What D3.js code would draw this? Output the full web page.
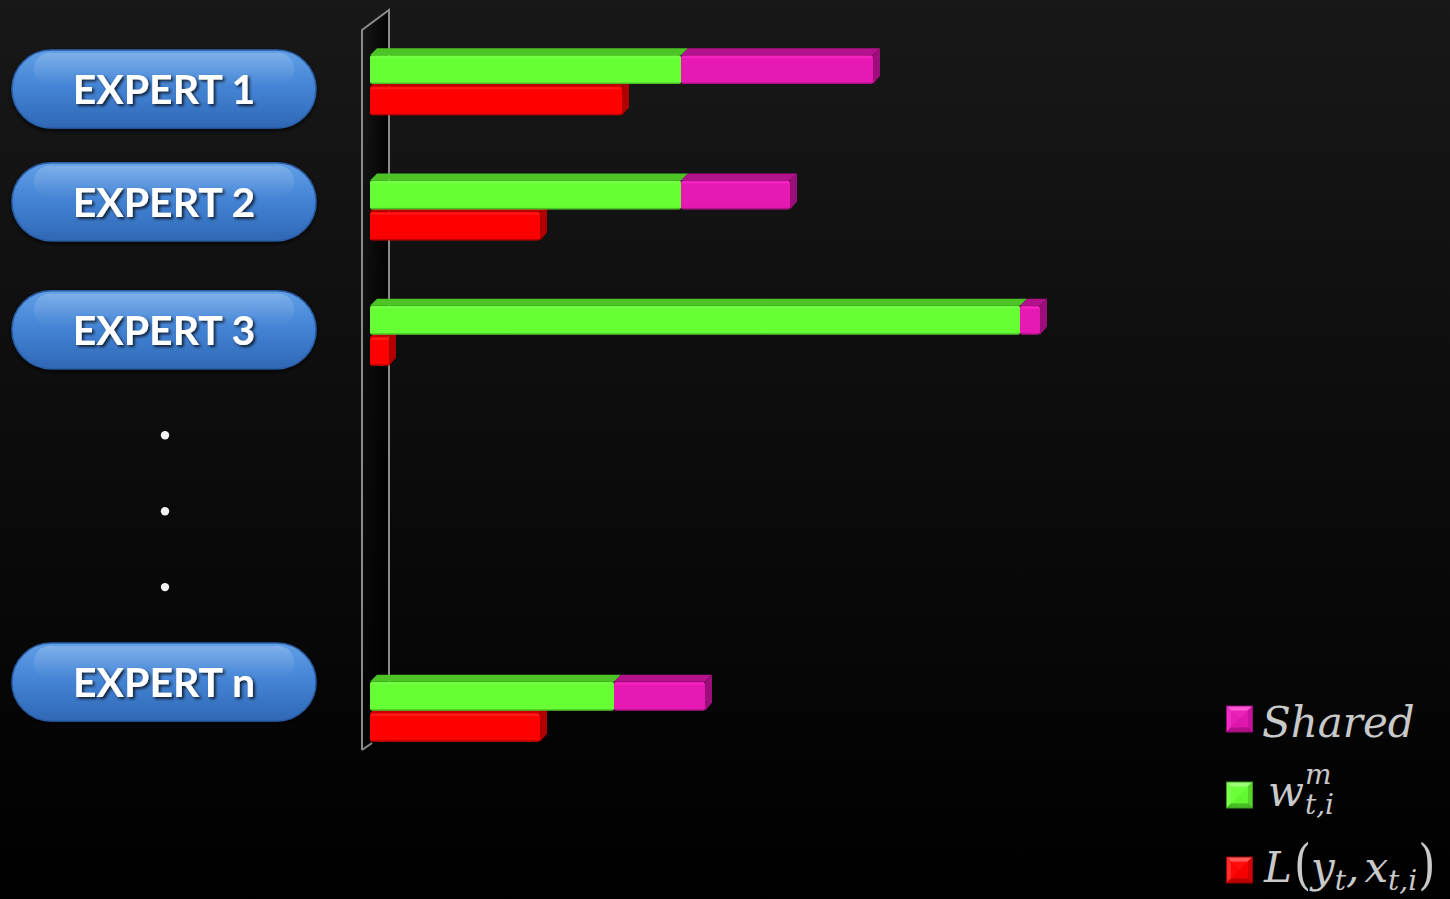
<!DOCTYPE html>
<html>
<head>
<meta charset="utf-8">
<script src="https://cdn.jsdelivr.net/npm/d3@7"></script>
<style>
  html, body { margin: 0; padding: 0; background: #000; }
  svg { display: block; }
</style>
</head>
<body>
<svg id="chart" width="1450" height="899"></svg>
<script>
// Chart rows: experts shown in the plot; the two gap rows carry no bars
const rows = ["EXPERT 1", "EXPERT 2", "EXPERT 3", "gapA", "gapB", "EXPERT n"];
const experts = ["EXPERT 1", "EXPERT 2", "EXPERT 3", "EXPERT n"];
// Stacked upper bar: weight part (green) + shared part (magenta)
const weightVals = [31.1, 31.1, 65.0, 24.4];
const sharedVals = [19.2, 10.9, 2.0, 9.1];
// Lower bar: loss
const lossVals = [25.2, 17.0, 1.9, 17.0];
// Label column: row positions (in row units) of the pill labels and the ellipsis dots
const labelRowPos = [0, 0.95, 2.03, 5];
const dotRowPos = [2.92, 3.56, 4.2];

const W = 1450, H = 899;
const svg = d3.select("#chart");
const defs = svg.append("defs");

// background gradient
const bg = defs.append("linearGradient").attr("id", "bg").attr("x1", 0).attr("y1", 0).attr("x2", 0).attr("y2", 1);
bg.append("stop").attr("offset", "0%").attr("stop-color", "#181818");
bg.append("stop").attr("offset", "100%").attr("stop-color", "#000000");
svg.append("rect").attr("width", W).attr("height", H).attr("fill", "url(#bg)");

// scales
const x = d3.scaleLinear().domain([0, 100]).range([370, 1370]);
const y = d3.scaleBand().domain(rows).range([19, 771]);
const sub = d3.scaleBand().domain(["upper", "lower"]).range([0, 60]).paddingInner(0.07);
const depth = 7;

// back wall of the 3D plot
const wallG = svg.append("g");
const wallGrad = defs.append("linearGradient").attr("id", "wall").attr("x1", 0).attr("y1", 0).attr("x2", 1).attr("y2", 0);
wallGrad.append("stop").attr("offset", "0%").attr("stop-color", "#000").attr("stop-opacity", 0);
wallGrad.append("stop").attr("offset", "100%").attr("stop-color", "#000").attr("stop-opacity", 0.9);
const wl = 362, wr = 389, wTop = 30, wBot = 750;
wallG.append("path")
  .attr("d", `M${wl},${wTop} L${wr},${wTop - 20} L${wr},${wBot - 7} L${wl + 10},${wBot - 7} L${wl},${wBot} Z`)
  .attr("fill", "url(#wall)");
wallG.append("path")
  .attr("d", `M${wl},${wBot} L${wl},${wTop} L${wr},${wTop - 20} L${wr},${wBot - 10}`)
  .attr("fill", "none").attr("stroke", "#8a8a8a").attr("stroke-width", 2);
wallG.append("path")
  .attr("d", `M${wl},${wBot} L${wl + 10},${wBot - 7}`)
  .attr("fill", "none").attr("stroke", "#8a8a8a").attr("stroke-width", 2);

const palette = {
  w: { front: "#66ff33", hi: "#7dff52", top: "#4cc426", side: "#3c9e1e" },
  s: { front: "#e619b3", hi: "#ff2ccb", top: "#b3128c", side: "#9c0f7a" },
  l: { front: "#ff0000", hi: "#ff2a2a", top: "#c20000", side: "#b00000" }
};

// draws one 3D bar segment (front face, top face, optional right face)
function seg(g, x0, x1, yT, h, c, withSide) {
  g.append("path")
    .attr("d", `M${x0},${yT} L${x0 + depth},${yT - depth} L${x1 + depth},${yT - depth} L${x1},${yT} Z`)
    .attr("fill", c.top);
  if (withSide) {
    g.append("path")
      .attr("d", `M${x1},${yT} L${x1 + depth},${yT - depth} L${x1 + depth},${yT + h - depth - 1} L${x1},${yT + h} Z`)
      .attr("fill", c.side);
  }
  g.append("rect").attr("x", x0).attr("y", yT).attr("width", Math.max(0, x1 - x0)).attr("height", h)
    .attr("rx", 2).attr("fill", c.front);
  g.append("rect").attr("x", x0 + 1).attr("y", yT + 1).attr("width", Math.max(0, x1 - x0 - 2)).attr("height", 2)
    .attr("fill", c.hi).attr("opacity", 0.6);
  g.append("rect").attr("x", x0).attr("y", yT + h - 1.5).attr("width", Math.max(0, x1 - x0)).attr("height", 1.5)
    .attr("fill", "#000").attr("opacity", 0.25);
}

const barsG = svg.append("g");
experts.forEach((e, i) => {
  const g = barsG.append("g");
  const y0 = y(e) + y.bandwidth() / 2 - 26.5;
  const hU = sub.bandwidth();
  // loss bar first (sits behind the upper bar's top face)
  seg(g, x(0), x(lossVals[i]), y0 + sub("lower"), hU, palette.l, true);
  // stacked upper bar
  seg(g, x(0), x(weightVals[i]), y0 + sub("upper"), hU, palette.w, false);
  seg(g, x(weightVals[i]), x(weightVals[i] + sharedVals[i]), y0 + sub("upper"), hU, palette.s, true);
});

// ---- pill labels on the left ----
const rowY = d3.scaleLinear().domain([0, 5]).range([89, 682]);
const pillW = 304, pillH = 78, pillX = 12;

const pg = defs.append("linearGradient").attr("id", "pill").attr("x1", 0).attr("y1", 0).attr("x2", 0).attr("y2", 1);
pg.append("stop").attr("offset", "0%").attr("stop-color", "#62a0e6");
pg.append("stop").attr("offset", "45%").attr("stop-color", "#4585d6");
pg.append("stop").attr("offset", "100%").attr("stop-color", "#2f68b6");
const pHi = defs.append("linearGradient").attr("id", "pillHi").attr("x1", 0).attr("y1", 0).attr("x2", 0).attr("y2", 1);
pHi.append("stop").attr("offset", "0%").attr("stop-color", "#ffffff").attr("stop-opacity", 0.18);
pHi.append("stop").attr("offset", "100%").attr("stop-color", "#ffffff").attr("stop-opacity", 0);

const shadow = defs.append("filter").attr("id", "tshadow").attr("x", "-20%").attr("y", "-30%").attr("width", "140%").attr("height", "160%");
shadow.append("feDropShadow").attr("dx", 2).attr("dy", 2).attr("stdDeviation", 1.5)
  .attr("flood-color", "#000").attr("flood-opacity", 0.75);
const pShadow = defs.append("filter").attr("id", "pshadow").attr("x", "-10%").attr("y", "-20%").attr("width", "120%").attr("height", "150%");
pShadow.append("feDropShadow").attr("dx", 0).attr("dy", 2).attr("stdDeviation", 2)
  .attr("flood-color", "#000").attr("flood-opacity", 0.8);

const labels = svg.append("g").selectAll("g").data(experts).join("g")
  .attr("transform", (d, i) => `translate(${pillX},${rowY(labelRowPos[i]) - pillH / 2})`);
labels.append("rect").attr("width", pillW).attr("height", pillH).attr("rx", pillH / 2)
  .attr("fill", "url(#pill)").attr("stroke", "#2a5ea8").attr("stroke-width", 1.5).attr("filter", "url(#pshadow)");
labels.append("rect").attr("x", 22).attr("y", 3).attr("width", pillW - 44).attr("height", pillH * 0.42).attr("rx", pillH * 0.2)
  .attr("fill", "url(#pillHi)");
labels.append("text")
  .attr("x", pillW / 2 + 0).attr("y", pillH / 2 + 15)
  .attr("text-anchor", "middle")
  .attr("font-family", "Lato, 'Open Sans', sans-serif").attr("font-weight", 700).attr("font-size", 41)
  .attr("fill", "#ffffff").attr("filter", "url(#tshadow)")
  .text(d => d);

// ellipsis dots
svg.append("g").selectAll("circle").data(dotRowPos).join("circle")
  .attr("cx", 165).attr("cy", d => rowY(d)).attr("r", 4.2).attr("fill", "#f2f2f2");

// ---- legend ----
const legendItems = [
  { key: "s", y: 719 },
  { key: "w", y: 795 },
  { key: "l", y: 870 }
];
const legColors = {
  s: { t: "#ff5ad8", l: "#f02cc2", r: "#c8139c", b: "#b00f88", c: "#e619b3", e: "#9a0d78" },
  w: { t: "#9bff78", l: "#7dff50", r: "#55d42a", b: "#48bb22", c: "#66ff33", e: "#3b9a1c" },
  l: { t: "#ff5a5a", l: "#ff2c2c", r: "#d40000", b: "#bb0000", c: "#ff0000", e: "#990000" }
};
const lg = svg.append("g");
const sq = 27, sqX = 1226;
legendItems.forEach(it => {
  const c = legColors[it.key];
  const x0 = sqX, y0 = it.y - sq / 2, x1 = x0 + sq, y1 = y0 + sq, cx = x0 + sq / 2, cy = y0 + sq / 2;
  const ins = 5;
  lg.append("rect").attr("x", x0).attr("y", y0).attr("width", sq).attr("height", sq).attr("fill", c.e);
  lg.append("path").attr("d", `M${x0 + 1},${y0 + 1} L${x1 - 1},${y0 + 1} L${cx},${cy} Z`).attr("fill", c.t);
  lg.append("path").attr("d", `M${x0 + 1},${y0 + 1} L${x0 + 1},${y1 - 1} L${cx},${cy} Z`).attr("fill", c.l);
  lg.append("path").attr("d", `M${x1 - 1},${y0 + 1} L${x1 - 1},${y1 - 1} L${cx},${cy} Z`).attr("fill", c.r);
  lg.append("path").attr("d", `M${x0 + 1},${y1 - 1} L${x1 - 1},${y1 - 1} L${cx},${cy} Z`).attr("fill", c.b);
  lg.append("rect").attr("x", x0 + ins).attr("y", y0 + ins).attr("width", sq - 2 * ins).attr("height", sq - 2 * ins)
    .attr("fill", c.c).attr("opacity", 0.85);
});

const mathFont = "'DejaVu Serif', serif";
const txtColor = "#c9c9c9";
// lays out a run of math pieces left to right
function mathRun(x0, base, pieces) {
  let cx = x0;
  pieces.forEach(p => {
    const t = lg.append("text")
      .attr("x", cx + (p.dx || 0)).attr("y", base + (p.dy || 0))
      .attr("font-family", mathFont).attr("font-style", p.upright ? "normal" : "italic")
      .attr("font-size", p.size).attr("fill", txtColor)
      .text(p.t);
    if (p.scaleY) {
      const by = base + (p.dy || 0);
      t.attr("transform", `translate(0,${by}) scale(1,${p.scaleY}) translate(0,${-by})`);
    }
    if (!p.noAdvance) cx += t.node().getComputedTextLength() + (p.dx || 0) + (p.gap || 0);
  });
}
mathRun(1262, 737, [{ t: "Shared", size: 42 }]);
mathRun(1268, 806, [
  { t: "w", size: 42 },
  { t: "m", size: 28, dy: -22, noAdvance: true, dx: 1 },
  { t: "t,i", size: 28, dy: 8, dx: 1 }
]);
mathRun(1264, 882, [
  { t: "L", size: 42, gap: 2 },
  { t: "(", size: 44, upright: true, scaleY: 1.25, dy: 1 },
  { t: "y", size: 42 },
  { t: "t", size: 28, dy: 8 },
  { t: ",", size: 42, gap: 5 },
  { t: "x", size: 42 },
  { t: "t,i", size: 28, dy: 8, gap: 1 },
  { t: ")", size: 44, upright: true, scaleY: 1.25, dy: 1 }
]);
</script>
</body>
</html>
